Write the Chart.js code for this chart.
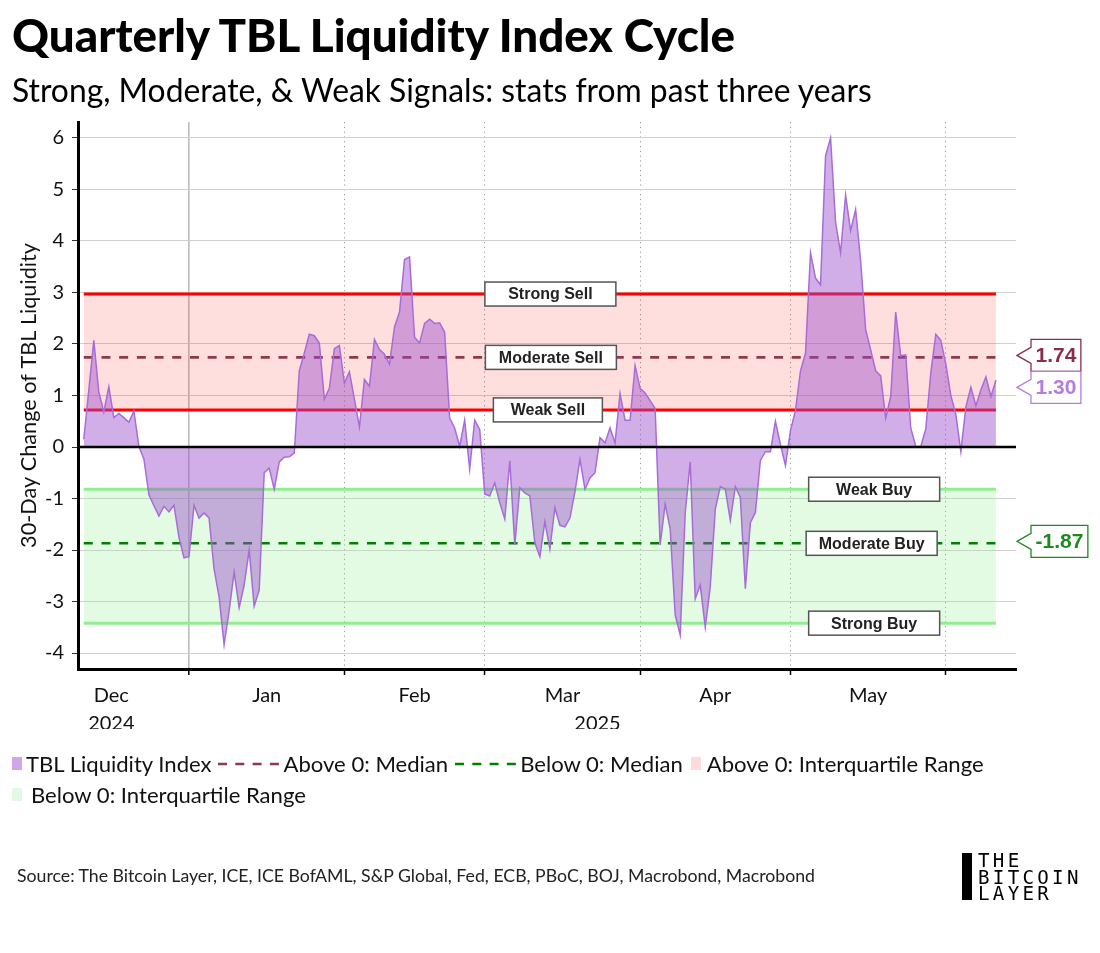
<!DOCTYPE html>
<html>
<head>
<meta charset="utf-8">
<script src="https://cdn.jsdelivr.net/npm/chart.js@4.4.1/dist/chart.umd.min.js"></script>
<style>
  body { margin: 0; background: #fff; }
  #page { position: relative; width: 1100px; height: 953px; overflow: hidden; font-family: Lato, "Noto Sans", sans-serif; color: #000; }
  #chart { position: absolute; left: 0; top: 0; }
  .txt { position: absolute; white-space: nowrap; line-height: 1.2; }
  #title { left: 12px; font-weight: 900; font-size: 41px; }
  #subtitle { left: 12px; font-size: 27px; }
  .legrow { position: absolute; left: 12px; display: flex; align-items: center; white-space: nowrap; font-size: 19px; line-height: 1.2; color: #111; }
  .patch { display: inline-block; width: 10px; height: 13px; }
  .legrow svg { display: block; }
  #source { left: 17px; font-size: 16.5px; color: #222; }
  #logobar { position: absolute; left: 962px; top: 853px; width: 10px; height: 47px; background: #000; }
  .logo { position: absolute; left: 978px; font-family: "DejaVu Sans Mono", monospace; font-size: 19px; letter-spacing: 3.3px; line-height: 1.2; color: #000; }
</style>
</head>
<body>
<div id="page">
  <canvas id="chart" width="1100" height="953"></canvas>
  <div class="txt" id="title">Quarterly TBL Liquidity Index Cycle</div>
  <div class="txt" id="subtitle">Strong, Moderate, &amp; Weak Signals: stats from past three years</div>

  <div class="legrow" id="leg1">
    <span class="patch" style="background:#d1a6e8;margin-right:4px"></span>
    <span style="margin-right:6px">TBL Liquidity Index</span>
    <svg width="61" height="6" style="margin-right:5px"><line x1="0" y1="3" x2="61" y2="3" stroke="#8b3a52" stroke-width="2.5" stroke-dasharray="9 8.3"/></svg>
    <span style="margin-right:7px">Above 0: Median</span>
    <svg width="61" height="6" style="margin-right:4px"><line x1="0" y1="3" x2="61" y2="3" stroke="#008000" stroke-width="2.5" stroke-dasharray="9 8.3"/></svg>
    <span style="margin-right:8px">Below 0: Median</span>
    <span class="patch" style="background:#ffdcdc;margin-right:6px"></span>
    <span>Above 0: Interquartile Range</span>
  </div>
  <div class="legrow" id="leg2">
    <span class="patch" style="background:#e3f9e3;margin-right:9px"></span>
    <span>Below 0: Interquartile Range</span>
  </div>

  <div class="txt" id="source">Source: The Bitcoin Layer, ICE, ICE BofAML, S&amp;P Global, Fed, ECB, PBoC, BOJ, Macrobond, Macrobond</div>
  <div id="logobar"></div>
  <div class="logo" id="logo1">THE</div>
  <div class="logo" id="logo2">BITCOIN</div>
  <div class="logo" id="logo3">LAYER</div>
</div>
<script>
// daily values, first point on startDate
var startDate = '2024-12-11';
var indexValues = [
  0.15, 1.10, 2.07, 1.07, 0.68, 1.17, 0.57, 0.65, 0.57, 0.48,
  0.70, 0.01, -0.23, -0.93, -1.14, -1.34, -1.15, -1.26, -1.13, -1.76,
  -2.15, -2.13, -1.13, -1.38, -1.28, -1.38, -2.37, -2.91, -3.84, -3.18,
  -2.43, -3.12, -2.68, -2.00, -3.09, -2.78, -0.50, -0.41, -0.82, -0.29,
  -0.20, -0.19, -0.12, 1.48, 1.82, 2.19, 2.16, 2.02, 0.93, 1.14,
  1.91, 1.97, 1.24, 1.46, 0.93, 0.39, 1.31, 1.18, 2.09, 1.89,
  1.80, 1.61, 2.33, 2.62, 3.64, 3.69, 2.13, 2.02, 2.40, 2.48,
  2.40, 2.41, 2.23, 0.56, 0.37, 0.01, 0.52, -0.43, 0.52, 0.34,
  -0.91, -0.95, -0.70, -1.08, -1.40, -0.27, -1.90, -0.79, -0.89, -0.95,
  -1.86, -2.13, -1.45, -1.98, -1.18, -1.52, -1.55, -1.38, -0.87, -0.24,
  -0.82, -0.60, -0.50, 0.18, 0.08, 0.37, 0.08, 1.04, 0.52, 0.52,
  1.58, 1.14, 1.05, 0.90, 0.75, -1.90, -1.11, -1.59, -3.26, -3.65,
  -1.28, -0.29, -2.95, -2.68, -3.50, -2.71, -1.21, -0.77, -0.82, -1.43,
  -0.77, -0.98, -2.75, -1.47, -1.27, -0.26, -0.09, -0.09, 0.50, 0.05,
  -0.36, 0.32, 0.71, 1.48, 1.82, 3.77, 3.28, 3.15, 5.65, 6.00,
  4.36, 3.77, 4.89, 4.20, 4.61, 3.62, 2.28, 1.89, 1.48, 1.38,
  0.56, 0.98, 2.62, 1.77, 1.79, 0.37, 0.01, 0.01, 0.35, 1.44,
  2.19, 2.07, 1.61, 1.00, 0.63, -0.09, 0.78, 1.16, 0.80, 1.11,
  1.36, 0.98, 1.30
];
var yTickValues = [-4, -3, -2, -1, 0, 1, 2, 3, 4, 5, 6];
var monthNames = ['Dec', 'Jan', 'Feb', 'Mar', 'Apr', 'May'];
var monthStarts = ['2024-12-01', '2025-01-01', '2025-02-01', '2025-03-01', '2025-04-01', '2025-05-01', '2025-06-01'];
var yearNames = ['2024', '2025'];
var signalNames = ['Strong Sell', 'Moderate Sell', 'Weak Sell', 'Weak Buy', 'Moderate Buy', 'Strong Buy'];
var signalValues = [2.97, 1.74, 0.72, -0.82, -1.87, -3.42];
var aboveMedian = 1.74;
var belowMedian = -1.87;

// days counted from 1 Jan 2025
function dayOf(s) {
  var p = s.split('-');
  return (Date.UTC(+p[0], +p[1] - 1, +p[2]) - Date.UTC(2025, 0, 1)) / 864e5;
}
var xMin = -22.15, xMax = 165;
var firstDay = dayOf(startDate);
var points = indexValues.map(function (v, i) { return { x: firstDay + i, y: v }; });
var xFirst = firstDay, xLast = firstDay + indexValues.length - 1;
var lastValue = indexValues[indexValues.length - 1];

// x ticks: month boundaries (grid), mid-month names, year names
var tickDefs = [];
var starts = monthStarts.map(dayOf);
starts.forEach(function (d) { if (d >= xMin && d <= xMax) tickDefs.push({ value: d, kind: 'b', label: '' }); });
monthNames.forEach(function (m, i) {
  var mid = (starts[i] + starts[i + 1]) / 2;
  tickDefs.push({ value: mid, kind: 'm', label: i === 0 ? [m, yearNames[0]] : m });
});
tickDefs.push({ value: 81.5, kind: 'y', label: ['', yearNames[1]] });
tickDefs.sort(function (a, b) { return a.value - b.value; });

function seg(y, a, b) { return [{ x: a, y: y }, { x: b, y: y }]; }
function hline(y, color, width, dash) {
  return { data: seg(y, xFirst, xLast), borderColor: color, borderWidth: width, borderDash: dash || [], pointRadius: 0, fill: false };
}

var signalBoxes = {
  id: 'signalBoxes',
  afterDatasetsDraw: function (chart, args, opts) {
    var ctx = chart.ctx, x = chart.scales.x, y = chart.scales.y;
    ctx.save();
    ctx.font = 'bold 16px "Liberation Sans", Arial, sans-serif';
    ctx.textAlign = 'center';
    ctx.textBaseline = 'middle';
    signalNames.forEach(function (name, i) {
      var cx = x.getPixelForValue(opts.centers[i]);
      var cy = y.getPixelForValue(signalValues[i]);
      var w = opts.widths[i], h = 24;
      ctx.fillStyle = '#fff';
      ctx.fillRect(cx - w / 2, cy - h / 2, w, h);
      ctx.strokeStyle = '#555';
      ctx.lineWidth = 1.5;
      ctx.strokeRect(cx - w / 2, cy - h / 2, w, h);
      ctx.fillStyle = '#222';
      ctx.fillText(name, cx, cy + 1);
    });
    ctx.restore();
  }
};

var valueTags = {
  id: 'valueTags',
  afterDraw: function (chart, args, opts) {
    var ctx = chart.ctx, y = chart.scales.y, area = chart.chartArea;
    var h = 32, tip = area.right + 1, boxL = tip + 14;
    var prevBottom = -1e9;
    ctx.save();
    ctx.font = 'bold 21px "Liberation Sans", Arial, sans-serif';
    ctx.textBaseline = 'middle';
    opts.items.forEach(function (it) {
      var cy = Math.max(y.getPixelForValue(it.value) - 2, prevBottom + h / 2);
      var label = it.value.toFixed(2);
      var w = ctx.measureText(label).width + 9;
      var top = cy - h / 2, bot = cy + h / 2;
      ctx.beginPath();
      ctx.moveTo(tip, cy);
      ctx.lineTo(boxL, cy - 8);
      ctx.lineTo(boxL, top);
      ctx.lineTo(boxL + w, top);
      ctx.lineTo(boxL + w, bot);
      ctx.lineTo(boxL, bot);
      ctx.lineTo(boxL, cy + 8);
      ctx.closePath();
      ctx.fillStyle = '#fff';
      ctx.fill();
      ctx.strokeStyle = it.color;
      ctx.lineWidth = 1.3;
      ctx.stroke();
      ctx.fillStyle = it.color;
      ctx.fillText(label, boxL + 4.5, cy + 1);
      prevBottom = bot;
    });
    ctx.restore();
  }
};

// y title size fitted to the reference length
var mctx = document.createElement('canvas').getContext('2d');
var yTitle = '30-Day Change of TBL Liquidity';
mctx.font = '18px Lato';
var yTitleSize = 18 * 305 / mctx.measureText(yTitle).width;

Chart.defaults.font.family = 'Lato, "Noto Sans", sans-serif';
Chart.defaults.color = '#111';

new Chart(document.getElementById('chart'), {
  type: 'line',
  data: {
    datasets: [
      { data: seg(0, xMin, xMax), borderColor: '#000', borderWidth: 2.6, pointRadius: 0, fill: false },
      { data: points, borderColor: '#a86cd9', borderWidth: 1.5, backgroundColor: 'rgba(155,75,205,0.45)', fill: 'origin', pointRadius: 0, tension: 0 },
      hline(aboveMedian, '#8b3a52', 2.6, [9, 8.7]),
      hline(belowMedian, '#008000', 2.6, [9, 8.7]),
      hline(signalValues[0], '#ff0000', 3),
      hline(signalValues[2], '#ff0000', 3),
      hline(signalValues[3], '#90ee90', 3),
      hline(signalValues[5], '#90ee90', 3),
      { data: seg(signalValues[0], xFirst, xLast), borderWidth: 0, pointRadius: 0, backgroundColor: 'rgba(255,0,0,0.13)', fill: { value: signalValues[2] } },
      { data: seg(signalValues[3], xFirst, xLast), borderWidth: 0, pointRadius: 0, backgroundColor: 'rgba(144,238,144,0.25)', fill: { value: signalValues[5] } }
    ]
  },
  options: {
    responsive: false,
    animation: false,
    layout: { padding: { top: 122, left: 0, right: 84, bottom: 224 } },
    plugins: {
      legend: { display: false },
      tooltip: { enabled: false },
      signalBoxes: { centers: [72.1, 72.2, 71.6, 136.7, 136.2, 136.7], widths: [131, 131, 109, 131, 131, 131] },
      valueTags: { items: [
        { value: aboveMedian, color: '#8b2c4b' },
        { value: lastValue, color: '#b57edc' },
        { value: belowMedian, color: '#1e8a1e' }
      ] }
    },
    scales: {
      x: {
        type: 'linear', min: xMin, max: xMax, offset: false,
        afterFit: function (s) { s.height = 60; },
        afterBuildTicks: function (s) { s.ticks = tickDefs.map(function (t) { return { value: t.value }; }); },
        ticks: {
          autoSkip: false, maxRotation: 0, padding: 6,
          font: { size: 20, lineHeight: 1.42 }, color: '#111',
          callback: function (v, i) { return tickDefs[i] ? tickDefs[i].label : ''; }
        },
        grid: {
          color: function (c) { var t = tickDefs[c.index]; if (!t || t.kind !== 'b') return 'rgba(0,0,0,0)'; return t.value === 0 ? '#bdbdbd' : '#9c9c9c'; },
          lineWidth: function (c) { var t = tickDefs[c.index]; return t && t.value === 0 ? 1.6 : 1; },
          tickColor: function (c) { var t = tickDefs[c.index]; return t && t.kind === 'b' ? '#000' : 'rgba(0,0,0,0)'; },
          tickLength: 6, tickWidth: 1.5
        },
        border: {
          display: true, color: '#000', width: 3,
          dash: function (c) { var t = tickDefs[c.index]; return t && t.value !== 0 ? [1.2, 3.6] : []; }
        }
      },
      y: {
        min: -4.31, max: 6.31,
        afterFit: function (s) { s.width = 78; },
        afterBuildTicks: function (s) { s.ticks = yTickValues.map(function (v) { return { value: v }; }); },
        ticks: { font: { size: 20 }, color: '#111', padding: 8, callback: function (v) { return String(v); } },
        grid: { color: '#d0d0d0', lineWidth: 1, tickColor: '#333', tickLength: 6 },
        border: { display: true, color: '#000', width: 3 },
        title: { display: true, text: yTitle, font: { size: yTitleSize }, color: '#111', padding: { top: 16, bottom: 0 } }
      }
    }
  },
  plugins: [signalBoxes, valueTags]
});

// fit html texts to reference widths and place them by cap centre
function place(id, width, capCenter, ratio) {
  var el = document.getElementById(id);
  var fs = parseFloat(getComputedStyle(el).fontSize);
  if (width) {
    fs = fs * width / el.getBoundingClientRect().width;
    el.style.fontSize = fs.toFixed(2) + 'px';
  }
  el.style.top = (capCenter - (ratio || 0.627) * fs).toFixed(1) + 'px';
}
place('title', 723, 37);
place('subtitle', 860, 90.5);
place('source', 798, 876);

// legend row 1 spans 12..984 in the reference; scale its text to fit
var leg1 = document.getElementById('leg1'), leg2 = document.getElementById('leg2');
var fixedW = 10 + 4 + 6 + 61 + 5 + 7 + 61 + 4 + 8 + 10 + 6;
var textW = leg1.getBoundingClientRect().width - fixedW;
var lfs = 19 * (972 - fixedW) / textW;
leg1.style.fontSize = leg2.style.fontSize = lfs.toFixed(2) + 'px';
leg1.style.top = (764 - 0.6 * lfs).toFixed(1) + 'px';
leg2.style.top = (795 - 0.6 * lfs).toFixed(1) + 'px';

place('logo2', 104, 877, 0.582);
document.getElementById('logo1').style.fontSize = document.getElementById('logo2').style.fontSize;
document.getElementById('logo3').style.fontSize = document.getElementById('logo2').style.fontSize;
place('logo1', 0, 860.5, 0.582);
place('logo3', 0, 893, 0.582);
</script>
</body>
</html>
